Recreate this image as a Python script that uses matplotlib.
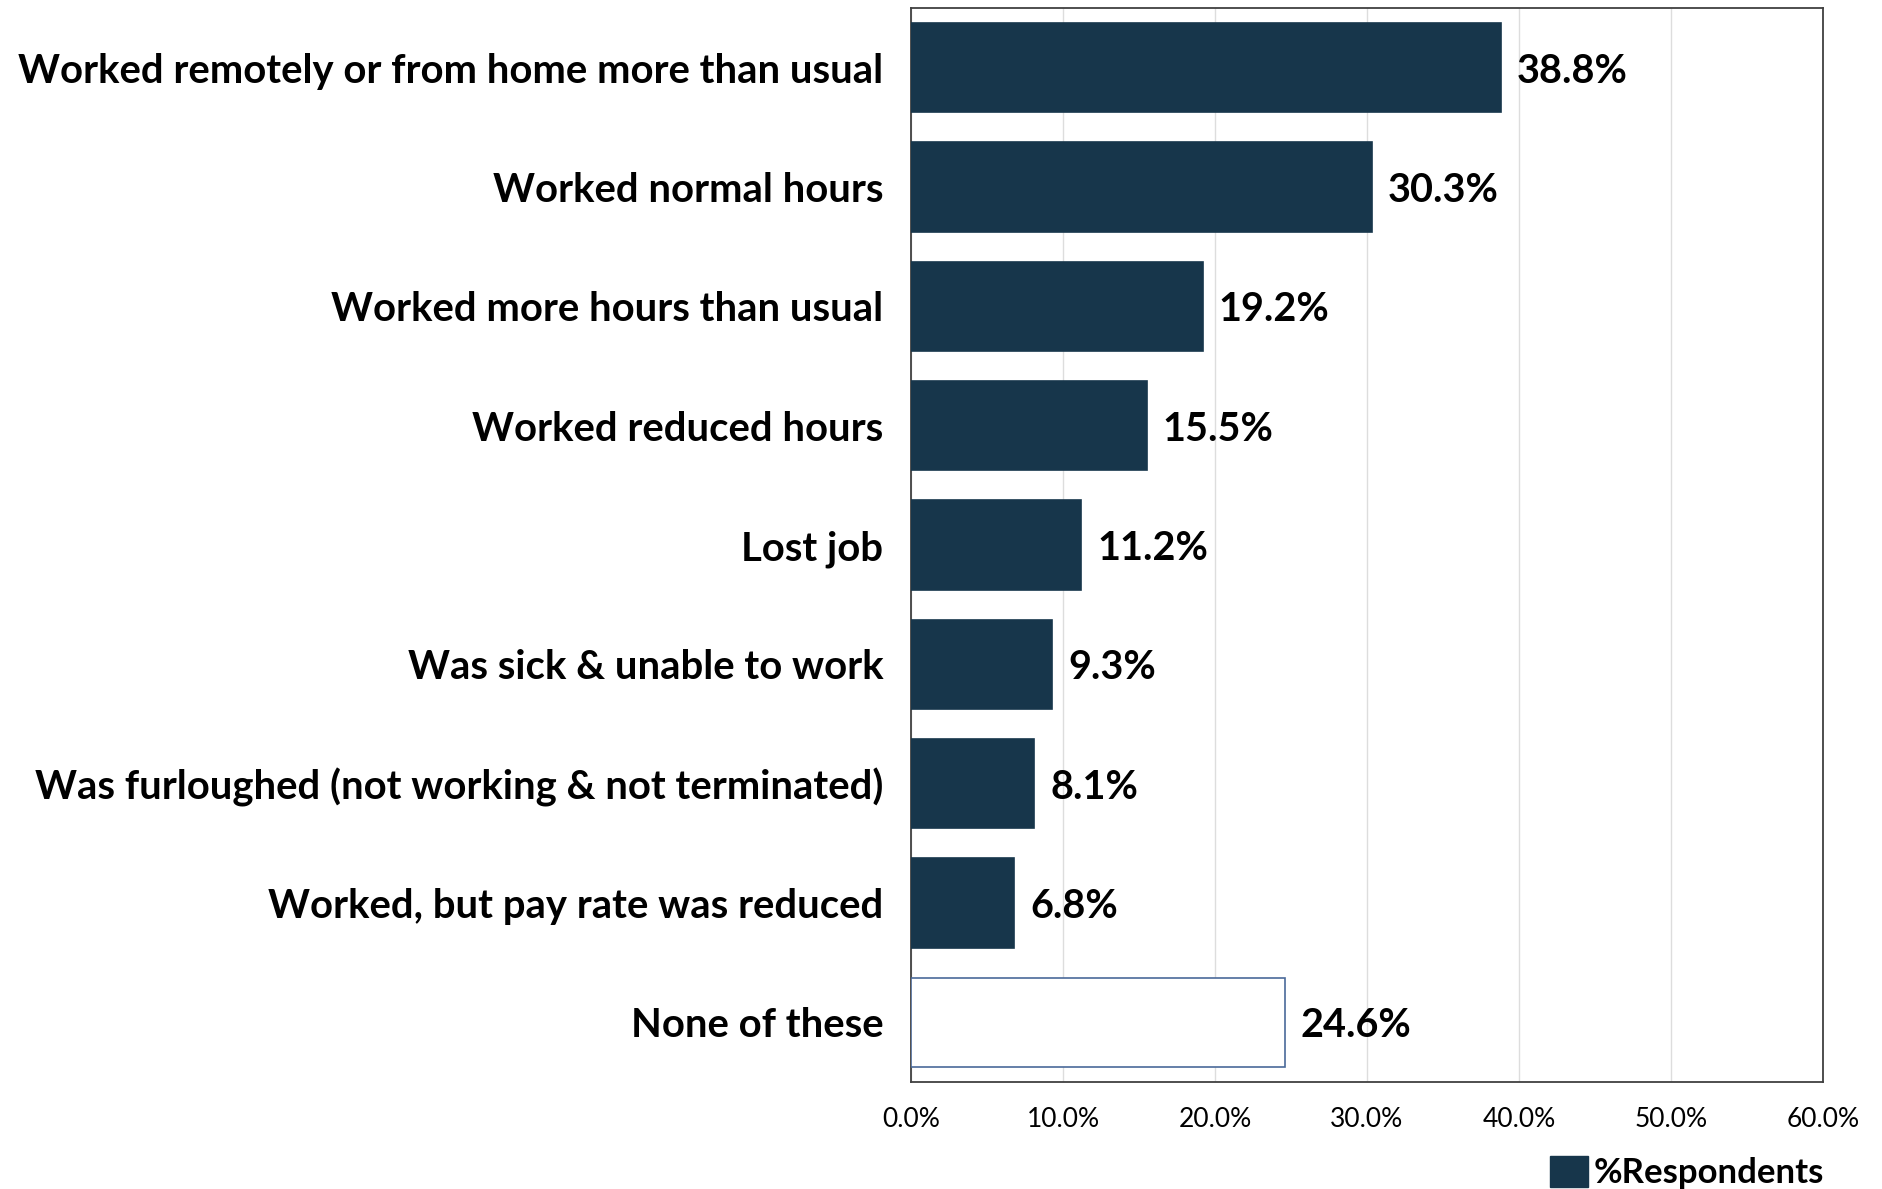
import matplotlib

matplotlib.use("Agg")
import matplotlib.pyplot as plt  # noqa: E402
import numpy as np  # noqa: E402

categories = [
    "Worked remotely or from home more than usual",
    "Worked normal hours",
    "Worked more hours than usual",
    "Worked reduced hours",
    "Lost job",
    "Was sick & unable to work",
    "Was furloughed (not working & not terminated)",
    "Worked, but pay rate was reduced",
    "None of these",
]
values = [38.8, 30.3, 19.2, 15.5, 11.2, 9.3, 8.1, 6.8, 24.6]
xticks = [0, 10, 20, 30, 40, 50, 60]

NAVY = "#17364b"
plt.rcParams["font.family"] = ["Lato", "DejaVu Sans"]

fig = plt.figure(figsize=(18.83, 11.89), dpi=100)
ax = fig.add_axes([911 / 1883, 1 - 1082 / 1189, 912 / 1883, 1074 / 1189])

y = np.arange(len(categories))
# last row ("None of these") is drawn hollow
face = [NAVY] * (len(values) - 1) + ["white"]
edge = [NAVY] * (len(values) - 1) + ["#4a6a9a"]
ax.barh(y, values, height=0.746, color=face, edgecolor=edge, linewidth=1.2, zorder=3)

for yi, v in zip(y, values):
    ax.annotate(f"{v:.1f}%", (v, yi), xytext=(16, 0), textcoords="offset pixels",
                va="center_baseline", ha="left", fontsize=28.5, fontweight="bold")

ax.set_ylim(len(categories) - 0.5, -0.5)
ax.set_xlim(0, 60)
ax.set_yticks(y, labels=categories, fontsize=28.8, fontweight="bold")
ax.set_xticks(xticks, labels=[f"{t:.1f}%" for t in xticks], fontsize=19)
ax.tick_params(axis="both", length=0)
ax.tick_params(axis="y", pad=20)
ax.tick_params(axis="x", pad=18)
ax.grid(axis="x", color="#dddddd", linewidth=1, zorder=0)
for s in ax.spines.values():
    s.set_color("#404040")
    s.set_linewidth(1.3)

handle = plt.Rectangle((0, 0), 1, 1, color=NAVY)
fig.legend([handle], ["%Respondents"], loc="upper right",
           bbox_to_anchor=(1824 / 1883, 1 - 1156 / 1189), frameon=False,
           prop={"size": 25, "weight": "bold"}, handlelength=1.1, handleheight=1.0,
           handletextpad=0.15, borderpad=0, borderaxespad=0)

fig.savefig("out.png", dpi=100)
